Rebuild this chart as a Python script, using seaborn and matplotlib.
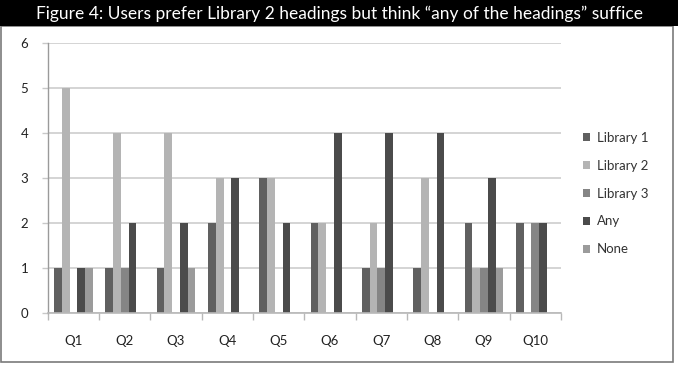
import matplotlib
matplotlib.use("Agg")
import matplotlib.pyplot as plt
import matplotlib.patches as mpatches
import seaborn as sns
import pandas as pd

questions = ["Q1", "Q2", "Q3", "Q4", "Q5", "Q6", "Q7", "Q8", "Q9", "Q10"]
series_names = ["Library 1", "Library 2", "Library 3", "Any", "None"]
library1 = [1, 1, 1, 2, 3, 2, 1, 1, 2, 2]
library2 = [5, 4, 4, 3, 3, 2, 2, 3, 1, 0]
library3 = [0, 1, 0, 0, 0, 0, 1, 0, 1, 2]
any_vals = [1, 2, 2, 3, 2, 4, 4, 4, 3, 2]
none_vals = [1, 0, 1, 0, 0, 0, 0, 0, 1, 0]
title = "Figure 4: Users prefer Library 2 headings but think \u201cany of the headings\u201d suffice"

colors = ["#606060", "#b4b4b4", "#858585", "#4b4b4b", "#9b9b9b"]

rows = []
for name, vals in zip(series_names, [library1, library2, library3, any_vals, none_vals]):
    for q, v in zip(questions, vals):
        rows.append({"Question": q, "Series": name, "Value": v})
df = pd.DataFrame(rows)

sns.set_theme(style="white")
plt.rcParams["font.family"] = ["Lato", "DejaVu Sans"]

W, H = 678, 368
fig = plt.figure(figsize=(W / 100, H / 100), dpi=100)

# outer border and title bar
fig.patches.append(mpatches.Rectangle((1 / W, 1 - 362 / H), 672 / W, (362 - 26) / H,
                                      transform=fig.transFigure, fill=False,
                                      edgecolor="#7a7a7a", linewidth=1.2))
fig.patches.append(mpatches.Rectangle((0, 1 - 26 / H), 1, 26 / H,
                                      transform=fig.transFigure, facecolor="black",
                                      edgecolor="none"))
fig.text(0.5, 1 - 13.5 / H, title, color="white", ha="center", va="center", fontsize=12.5)

ax = fig.add_axes([47.7 / W, 1 - 312.7 / H, (561 - 47.7) / W, (312.7 - 43.3) / H])
sns.barplot(data=df, x="Question", y="Value", hue="Series", hue_order=series_names,
            order=questions, palette=colors, width=0.75, gap=0, ax=ax,
            saturation=1, legend=False, linewidth=0)

ax.set_xlim(-0.5, len(questions) - 0.5)
ax.set_ylim(0, 6)
ax.set_yticks(range(0, 7))
ax.set_xlabel("")
ax.set_ylabel("")
ax.grid(axis="y", color="#d4d4d4", linewidth=1.4)
ax.set_axisbelow(True)
for s in ["top", "right"]:
    ax.spines[s].set_visible(False)
ax.spines["left"].set_color("#9a9a9a")
ax.spines["bottom"].set_color("#b8b8b8")
ax.spines["left"].set_linewidth(1.0)
ax.spines["bottom"].set_linewidth(1.2)

ax.set_xticks([i + 0.5 for i in range(-1, len(questions))], minor=True)
ax.tick_params(axis="x", which="major", length=0, pad=16, labelsize=9.5, labelcolor="#222222")
ax.tick_params(axis="x", which="minor", length=5, color="#b8b8b8", width=1, direction="out")
ax.tick_params(axis="y", which="major", length=4, color="#c8c8c8", width=1,
               labelsize=9.5, labelcolor="#222222", pad=10)
ax.tick_params(bottom=True, left=True, which="both")
ax.tick_params(axis="x", which="major", bottom=False)

handles = [mpatches.Patch(facecolor=c, edgecolor="none") for c in colors]
fig.legend(handles, series_names, loc="upper left",
           bbox_to_anchor=(571 / W, 1 - 120 / H), frameon=False, fontsize=9.5,
           handlelength=0.55, handleheight=0.55, handletextpad=0.5, labelspacing=1.2,
           labelcolor="#333333")

fig.savefig("out.png", dpi=100)
